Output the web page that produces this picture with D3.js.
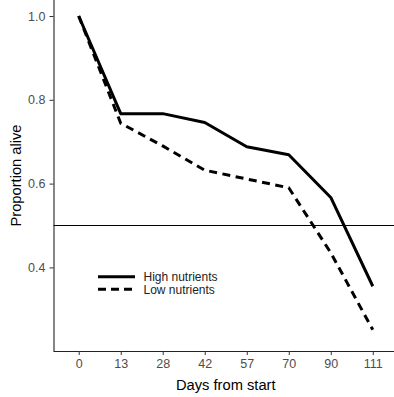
<!DOCTYPE html>
<html>
<head>
<meta charset="utf-8">
<script src="https://cdn.jsdelivr.net/npm/d3@7"></script>
<style>
  html, body { margin: 0; padding: 0; background: #fff; }
  svg { display: block; }
</style>
</head>
<body>
<script>
const days = ["0", "13", "28", "42", "57", "70", "90", "111"];
const highNutrients = [1.0, 0.767, 0.767, 0.746, 0.688, 0.669, 0.567, 0.355];
const lowNutrients = [1.0, 0.744, 0.690, 0.632, 0.611, 0.590, 0.435, 0.251];
const yTicks = [0.4, 0.6, 0.8, 1.0];
const refLine = 0.5;
const seriesNames = ["High nutrients", "Low nutrients"];

const W = 394, H = 397;
const mLeft = 53.5, mTop = 0, mBottom = 351, mRight = 398;

const svg = d3.select("body").append("svg").attr("width", W).attr("height", H);

const x = d3.scalePoint().domain(days).range([mLeft, mRight]).padding(0.6);
const y = d3.scaleLinear().domain([0.2005, 1.0382]).range([mBottom, mTop]);

const font = "Arial, 'Liberation Sans', sans-serif";

// reference line
svg.append("line")
  .attr("x1", mLeft).attr("x2", W)
  .attr("y1", y(refLine)).attr("y2", y(refLine))
  .attr("stroke", "#000").attr("stroke-width", 1);

// axes
const xAxis = svg.append("g").attr("transform", `translate(0,${mBottom})`)
  .call(d3.axisBottom(x).tickSize(4).tickPadding(4));
const yAxis = svg.append("g").attr("transform", `translate(${mLeft},0)`)
  .call(d3.axisLeft(y).tickValues(yTicks).tickFormat(d3.format(".1f")).tickSize(4).tickPadding(4));

[xAxis, yAxis].forEach(g => {
  g.select(".domain").attr("stroke", "#222").attr("stroke-width", 1.1);
  g.selectAll(".tick line").attr("stroke", "#333");
  g.selectAll(".tick text").attr("fill", "#4d4d4d").style("font-family", font).style("font-size", "12.5px");
});
xAxis.select(".domain").attr("d", `M${mLeft},0.5H${W}`);
yAxis.select(".domain").attr("d", `M0.5,${mBottom}V${mTop}`);

// lines
const line = d3.line().x((d, i) => x(days[i])).y(d => y(d));
svg.append("path").datum(highNutrients)
  .attr("d", line).attr("fill", "none").attr("stroke", "#000")
  .attr("stroke-width", 3).attr("stroke-linejoin", "round");
svg.append("path").datum(lowNutrients)
  .attr("d", line).attr("fill", "none").attr("stroke", "#000")
  .attr("stroke-width", 3).attr("stroke-dasharray", "8,5.5");

// legend
const legend = svg.append("g");
const legY = [276.7, 289.3];
seriesNames.forEach((name, i) => {
  legend.append("line")
    .attr("x1", 98).attr("x2", 135).attr("y1", legY[i]).attr("y2", legY[i])
    .attr("stroke", "#000").attr("stroke-width", 3)
    .attr("stroke-dasharray", i === 1 ? "8,5" : null);
  legend.append("text")
    .attr("x", 143.5).attr("y", legY[i]).attr("dy", "0.35em")
    .style("font-family", font).style("font-size", "12px").attr("fill", "#222")
    .text(name);
});

// axis titles
svg.append("text")
  .attr("x", (mLeft + mRight) / 2).attr("y", 390)
  .attr("text-anchor", "middle")
  .style("font-family", font).style("font-size", "14.7px").attr("fill", "#000")
  .text("Days from start");
svg.append("text")
  .attr("transform", `translate(20.5,${(mTop + mBottom) / 2}) rotate(-90)`)
  .attr("text-anchor", "middle")
  .style("font-family", font).style("font-size", "14.7px").attr("fill", "#000")
  .text("Proportion alive");
</script>
</body>
</html>
